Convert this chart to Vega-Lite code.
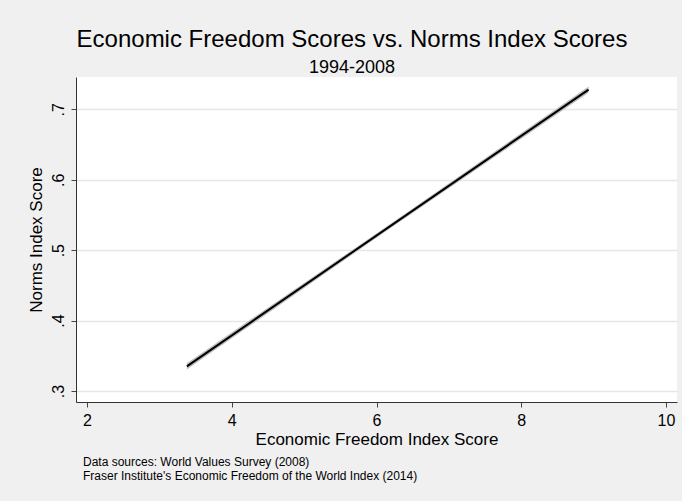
{
  "$schema": "https://vega.github.io/schema/vega-lite/v6.json",
  "autosize": {"type": "pad"},
  "padding": {"left": 27, "top": 28, "right": 5, "bottom": 19},
  "background": "#f0f0f0",
  "title": {
    "text": "Economic Freedom Scores vs. Norms Index Scores",
    "subtitle": "1994-2008",
    "anchor": "middle",
    "font": "Liberation Sans",
    "fontSize": 24,
    "fontWeight": "normal",
    "color": "black",
    "subtitleFont": "Liberation Sans",
    "subtitleFontSize": 18,
    "subtitleColor": "black",
    "subtitlePadding": 7,
    "offset": 0
  },
  "config": {
    "view": {"fill": "white", "stroke": null},
    "font": "Liberation Sans"
  },
  "vconcat": [
    {
      "width": 601,
      "height": 325,
      "title": {
        "text": ["Data sources: World Values Survey (2008)", "Fraser Institute's Economic Freedom of the World Index (2014)"],
        "orient": "bottom",
        "anchor": "start",
        "frame": "group",
        "font": "Liberation Sans",
        "fontSize": 12,
        "fontWeight": "normal",
        "lineHeight": 14,
        "color": "black",
        "offset": 10,
        "dx": 7
      },
      "data": {
        "values": [
          {"x": 3.38, "fit": 0.335, "lo": 0.3305, "hi": 0.3395},
          {"x": 6.2, "fit": 0.535, "lo": 0.532, "hi": 0.538},
          {"x": 8.93, "fit": 0.728, "lo": 0.7235, "hi": 0.7325}
        ]
      },
      "layer": [
        {
          "mark": {"type": "area", "color": "#bdbdbd"},
          "encoding": {
            "x": {
              "field": "x",
              "type": "quantitative",
              "scale": {"domain": [1.848, 10.152], "nice": false, "zero": false},
              "axis": {
                "values": [2, 4, 6, 8, 10],
                "format": "d",
                "grid": false,
                "tickSize": 5,
                "tickColor": "#444",
                "domainColor": "#333",
                "labelFontSize": 16,
                "labelColor": "black",
                "labelPadding": 5,
                "labelFlush": false,
                "title": "Economic Freedom Index Score",
                "titleFontSize": 17,
                "titleFontWeight": "normal",
                "titleColor": "black",
                "titlePadding": 3
              }
            },
            "y": {
              "field": "lo",
              "type": "quantitative",
              "scale": {"domain": [0.2844, 0.746], "nice": false, "zero": false},
              "axis": {
                "values": [0.3, 0.4, 0.5, 0.6, 0.7],
                "grid": true,
                "gridColor": "#e6e6e6",
                "gridWidth": 1.5,
                "tickSize": 5,
                "tickColor": "#444",
                "domainColor": "#333",
                "labelAngle": -90,
                "labelAlign": "center",
                "labelBaseline": "bottom",
                "labelExpr": "replace(format(datum.value, '.1f'), '0.', '.')",
                "labelFontSize": 16,
                "labelColor": "black",
                "labelPadding": 5,
                "title": "Norms Index Score",
                "titleFontSize": 17,
                "titleFontWeight": "normal",
                "titleColor": "black",
                "titlePadding": 5
              }
            },
            "y2": {"field": "hi"}
          }
        },
        {
          "mark": {"type": "line", "color": "black", "strokeWidth": 2},
          "encoding": {
            "x": {"field": "x", "type": "quantitative"},
            "y": {"field": "fit", "type": "quantitative"}
          }
        }
      ]
    }
  ]
}
